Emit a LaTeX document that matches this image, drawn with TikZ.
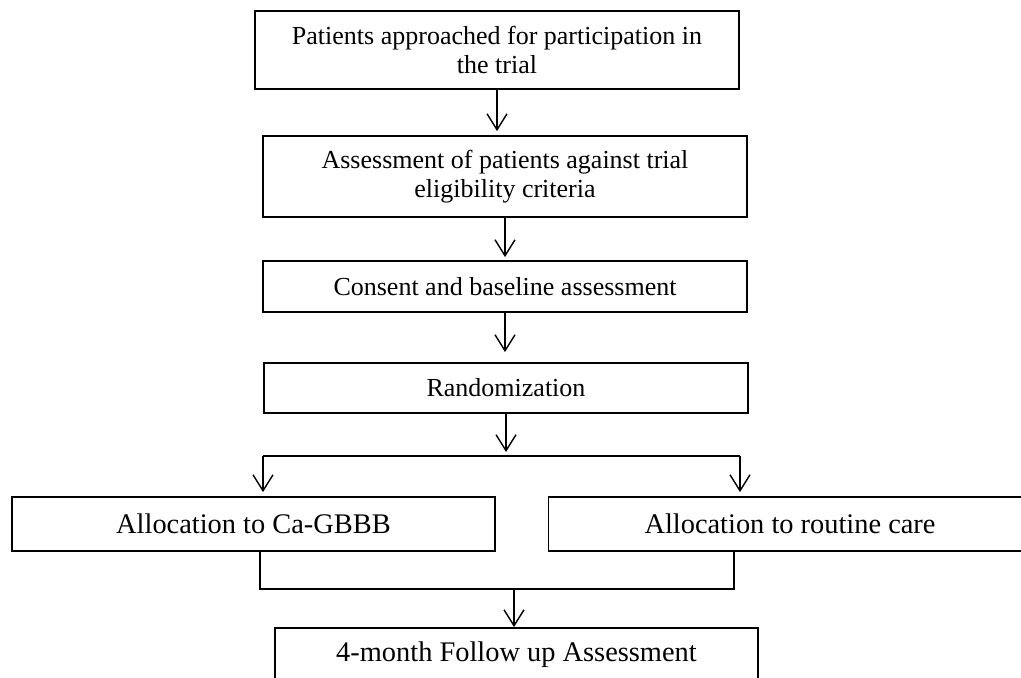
\documentclass[tikz,border=0pt]{standalone}
\usepackage{fontspec}
\setmainfont{Liberation Serif}
\usetikzlibrary{arrows.meta}
\begin{document}
\begin{tikzpicture}[x=0.5pt, y=-0.5pt,
    stage/.style ={rectangle, draw, line width=0.9pt, minimum width=242pt, align=center, inner sep=0pt, font=\fontsize{13}{14.5}\selectfont},
    arm/.style ={stage, minimum width=241.5pt, minimum height=27pt, font=\fontsize{14.2}{17}\selectfont},
    flow/.style ={line width=0.7pt, -{Straight Barb[length=8pt, width=10pt]}},
    link/.style ={line width=0.7pt}]
   \useasboundingbox (0,0) rectangle (1021,678);

   \node[stage, minimum height=39pt] (approach) at (497,50) {Patients approached for participation in\\the trial};
   \node[stage, minimum height=40.5pt] (assess) at (505,176.5) {Assessment of patients against trial\\eligibility criteria};
   \node[stage, minimum height=25.5pt] (consent) at (505,286.5) {Consent and baseline assessment};
   \node[stage, minimum height=25pt] (random) at (506,388) {Randomization};
   \node[arm] (ca) at (253.5,524) {Allocation to Ca-GBBB};
   \node[arm] (routine) at (790,524) {Allocation to routine care};
   \node[arm] (followup) at (516.5,655) {4-month Follow up Assessment};

   \coordinate (split) at (503,456);
   \coordinate (splitL) at (263,456);
   \coordinate (splitR) at (740,456);
   \coordinate (mergeL) at (260,589);
   \coordinate (mergeR) at (734,589);
   \coordinate (merge) at (514,589);

   \draw[flow, shorten >=2pt] (approach) -- (approach.south |- assess.north);
   \draw[flow, shorten >=1.5pt] (assess) -- (assess.south |- consent.north);
   \draw[flow, shorten >=5pt] (consent) -- (consent.south |- random.north);
   \draw[flow, shorten >=2pt] (random) -- (random.south |- split);
   \draw[link] (splitL) -- (splitR);
   \draw[flow, shorten >=2pt] (splitL) -- (splitL |- ca.north);
   \draw[flow, shorten >=2pt] (splitR) -- (splitR |- routine.north);
   \draw[link] (mergeL |- ca.south) -- (mergeL) -- (mergeR) -- (mergeR |- routine.south);
   \draw[flow] (merge) -- (merge |- followup.north);

 \end{tikzpicture}
\end{document}
